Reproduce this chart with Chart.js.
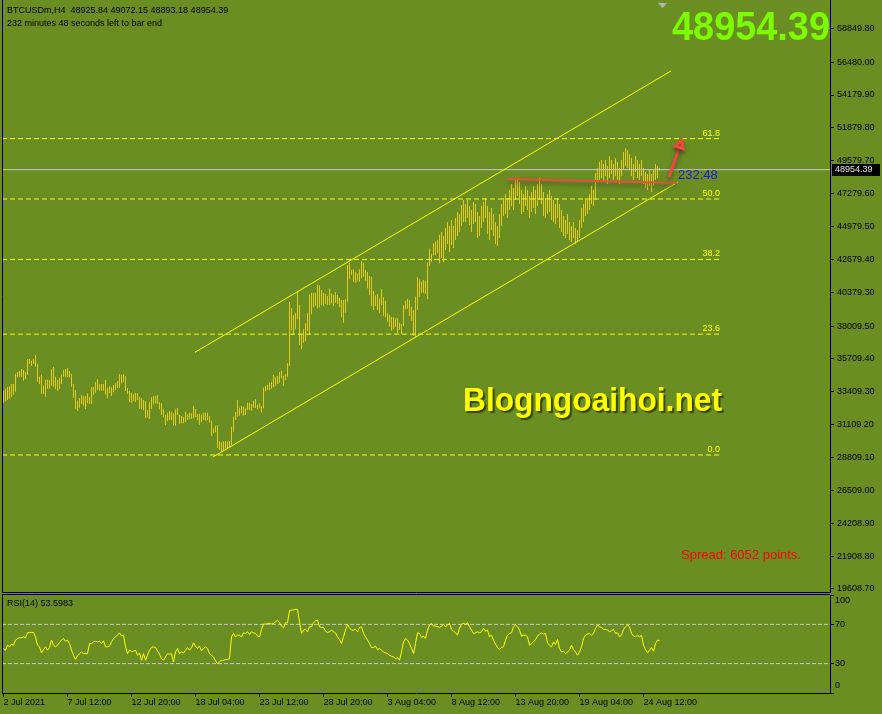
<!DOCTYPE html>
<html lang="en">
  <head>
    <meta charset="UTF-8" />
    <title>BTCUSDm,H4</title>
    <style>
      body {
        margin: 0;
        background: #6b8e23;
      }
      #wrap {
        position: relative;
        width: 882px;
        height: 714px;
      }
      canvas {
        position: absolute;
        left: 0;
      }
      #priceChart {
        top: 0;
      }
      #rsiChart {
        top: 594px;
      }
    </style>
  </head>
  <body>
    <div id="wrap">
      <canvas id="priceChart" width="882" height="594"></canvas>
      <canvas id="rsiChart" width="882" height="120"></canvas>
    </div>

    <script src="https://cdn.jsdelivr.net/npm/chart.js"></script>

    <script>
      // ---- data ----
      const symbol = "BTCUSDm,H4";
      const headerOHLC = [48925.84, 49072.15, 48893.18, 48954.39];
      const timeLeft = "232 minutes 48 seconds left to bar end";
      const timerText = "232:48";
      const spreadText = "Spread: 6052 points.";
      const watermark = "Blogngoaihoi.net";

      // H4 bars, high and low of each
      const barHigh = [
        33484, 33624, 33741, 33788, 33951, 33951, 34674, 34791, 34861, 35001,
        34931, 34791, 35701, 35701, 35584, 35701, 35981, 35374, 34464, 34604,
        33834, 34254, 34254, 34231, 34978, 35141, 34464, 34231, 34371, 34604,
        34954, 35001, 35071, 34861, 34651, 33951, 33531, 32784, 32971, 33204,
        33111, 33111, 33298, 33041, 33741, 33741, 34091, 34301, 33928, 33951,
        33951, 34231, 33694, 33811, 33718, 33881, 34021, 34161, 34651, 34581,
        34651, 34511, 33671, 33461, 33344, 33274, 33321, 33321, 33041, 32971,
        32831, 32738, 32131, 32668, 33018, 33111, 33134, 33181, 32691, 32621,
        32178, 31804, 31944, 32061, 32014, 31898, 32178, 32271, 31781, 31711,
        31641, 32014, 31828, 31944, 31898, 32434, 32201, 31851, 31874, 31804,
        31944, 31944, 31944, 31711, 31384, 30848, 31011, 31081, 29938, 29891,
        29938, 29938, 29938, 29938, 30964, 31664, 31991, 32831, 32294, 32411,
        32364, 32248, 32644, 32644, 32551, 32784, 32901, 32504, 32598, 32411,
        33694, 33811, 33904, 34044, 34091, 34604, 34418, 34511, 34791, 34884,
        34511, 34651, 35421, 39691, 39271, 38758, 38944, 40484, 39504, 37451,
        37778, 38198, 38898, 40204, 40344, 40344, 40344, 40904, 40858, 40531,
        40344, 40251, 40111, 40624, 40298, 40204, 40391, 40181, 39971, 39831,
        39831, 39878, 42281, 42444, 41931, 41978, 41814, 41698, 41978, 42538,
        42444, 41931, 41791, 41511, 41464, 40484, 40158, 40251, 39948, 40578,
        40018, 39784, 38898, 38781, 38664, 38618, 38548, 38571, 38244, 38151,
        39458, 39784, 39924, 39831, 39364, 39131, 40064, 41418, 41278, 41114,
        41231, 41184, 42444, 43424, 43051, 43798, 43938, 44031, 44404, 44591,
        44311, 44871, 45291, 45011, 45431, 45011, 45571, 45991, 45851, 46481,
        46831, 46551, 46831, 46411, 46131, 46691, 46551, 45991, 45711, 46411,
        46691, 46971, 46411, 45991, 46271, 45851, 45291, 45011, 45851, 46551,
        46971, 47251, 46971, 47531, 47951, 47671, 48231, 48371, 48091, 47531,
        47251, 47811, 47531, 47111, 47391, 47811, 47531, 47951, 48371, 47951,
        47391, 46971, 47251, 47531, 47111, 46831, 46551, 46971, 46551, 46131,
        45711, 45431, 45851, 45291, 45011, 45291, 44871, 44731, 45431, 46271,
        46551, 46971, 46831, 47251, 47811, 47531, 48721, 49071, 49491, 49631,
        49351, 49631, 49211, 49911, 49631, 49351, 49771, 49491, 49071, 49631,
        50191, 50471, 50331, 50051, 49771, 49351, 49911, 49631, 49351, 49631,
        49071, 48791, 48651, 48931, 48651, 48931, 49351, 49211, 49072,
      ];
      const barLow = [
        32644, 32738, 32831, 32924, 33018, 33204, 33414, 34418, 34464, 34464,
        34184, 34301, 34604, 35351, 35234, 35351, 35164, 34114, 33951, 33274,
        33251, 33064, 33624, 33624, 33811, 33764, 33578, 33461, 33578, 33951,
        34464, 34464, 34418, 34418, 33764, 32994, 32201, 32084, 32294, 32551,
        32434, 32201, 32598, 32551, 32551, 33204, 33344, 33531, 33484, 33484,
        33484, 33204, 32948, 33298, 33111, 33368, 33531, 33671, 33671, 33998,
        34091, 33461, 33251, 32691, 32644, 32738, 32691, 32831, 32224, 32178,
        32131, 31594, 31594, 31501, 32201, 32528, 32598, 32551, 32178, 31781,
        31618, 31081, 31338, 31431, 31431, 31058, 31034, 31758, 31174, 31198,
        31198, 31268, 31431, 31478, 31501, 31548, 31641, 31431, 31081, 31291,
        31431, 31384, 31431, 31244, 30311, 30498, 30568, 29471, 29330, 29200,
        29331, 29448, 29448, 29564, 29681, 30614, 31431, 31664, 31734, 31898,
        31734, 31781, 32131, 32131, 32084, 32294, 32271, 32178, 32248, 31944,
        32248, 33438, 33531, 33531, 33624, 33718, 33811, 33951, 34044, 34348,
        33811, 34231, 34464, 35211, 37684, 37381, 37778, 38478, 36681, 36378,
        36844, 36938, 37638, 37381, 38828, 39318, 39411, 39248, 39318, 39481,
        39411, 39551, 39458, 39481, 39598, 39411, 39644, 39551, 39318, 38618,
        38244, 38944, 39714, 41278, 41581, 41091, 41044, 41138, 41114, 41348,
        41464, 41184, 40648, 40181, 39411, 39131, 39411, 39131, 38898, 39458,
        38711, 38618, 38314, 37964, 37684, 37778, 37964, 37498, 37731, 37451,
        38011, 39178, 39224, 38711, 38384, 37311, 37264, 39131, 40064, 40344,
        40344, 40251, 39878, 42211, 42491, 42958, 42958, 43098, 42398, 42771,
        42491, 43331, 43751, 43191, 43681, 43471, 44031, 44311, 44591, 45011,
        45291, 45291, 45571, 45081, 44591, 45151, 45291, 44171, 44311, 44871,
        45291, 45571, 44451, 44031, 44731, 44311, 43751, 43611, 44171, 45011,
        45711, 45851, 45571, 46131, 46411, 46131, 46831, 47111, 46551, 45851,
        45991, 46411, 46131, 45571, 45991, 46271, 45851, 46411, 46831, 46551,
        45711, 45571, 45851, 45991, 45431, 45291, 45151, 45571, 44871, 44591,
        44311, 44171, 44451, 44031, 43891, 44171, 43751, 43891, 44171, 44871,
        45291, 45711, 45851, 46131, 46551, 46411, 46831, 48091, 48231, 48371,
        48091, 48511, 47951, 48371, 48651, 48231, 48511, 48231, 47951, 48511,
        48931, 49211, 49071, 48931, 48511, 48231, 48791, 48371, 48231, 48511,
        47951, 47671, 47531, 47811, 47391, 47811, 48231, 48371, 48893,
      ];

      // RSI(14), one value per bar
      const rsiValues = [
        45.4, 43.7, 48.8, 47.1, 49.8, 48.8, 53.9, 55.6, 56.3, 56.3,
        57.3, 56.3, 61.4, 61.8, 61.8, 61.8, 57.3, 48.8, 47.1, 40.9,
        44.3, 47.1, 43.7, 46.4, 53.9, 48.8, 47.1, 48.8, 51.5, 53.9,
        55.6, 52.9, 53.9, 50.5, 43.7, 38.5, 34.4, 37.9, 40.2, 41.9,
        40.2, 40.2, 40.2, 50.5, 50.5, 52.2, 52.9, 52.2, 52.9, 50.5,
        53.2, 47.1, 47.1, 47.8, 52.2, 55.6, 57.3, 59.0, 61.4, 58.4,
        59.0, 47.1, 40.2, 43.7, 42.3, 42.6, 43.7, 38.5, 40.9, 33.4,
        40.2, 33.4, 38.5, 43.7, 46.4, 47.1, 46.4, 43.0, 39.6, 35.1,
        33.4, 36.8, 40.2, 39.6, 40.2, 31.7, 41.9, 45.4, 40.2, 41.9,
        40.9, 43.7, 46.4, 43.7, 46.1, 51.2, 47.8, 45.4, 47.8, 43.0,
        45.4, 47.1, 45.4, 40.2, 38.5, 36.8, 32.7, 30.0, 31.7, 33.4,
        33.4, 34.1, 34.1, 35.1, 57.3, 60.8, 57.3, 59.0, 59.0, 57.3,
        61.4, 60.8, 62.5, 59.7, 62.5, 61.4, 60.8, 58.0, 57.3, 64.9,
        70.3, 70.3, 71.0, 71.0, 70.3, 71.0, 72.7, 74.4, 71.7, 68.3,
        66.6, 71.7, 71.7, 84.0, 84.7, 84.7, 85.4, 85.4, 72.7, 60.8,
        64.2, 64.9, 62.5, 67.6, 67.6, 71.7, 73.7, 74.4, 67.6, 66.9,
        66.9, 63.1, 61.8, 62.5, 64.2, 62.5, 61.4, 57.3, 54.6, 50.5,
        57.3, 64.2, 70.0, 66.6, 64.2, 64.2, 64.9, 62.5, 66.9, 67.6,
        60.8, 57.3, 53.9, 50.5, 46.4, 46.4, 47.8, 44.3, 45.4, 43.7,
        41.9, 40.9, 40.2, 38.5, 37.5, 36.8, 35.1, 36.1, 33.4, 41.9,
        52.2, 55.6, 53.9, 50.5, 45.4, 40.2, 50.5, 61.4, 60.8, 56.6,
        58.0, 55.6, 64.2, 69.3, 71.0, 68.3, 68.3, 67.6, 66.9, 68.3,
        70.0, 67.6, 69.3, 71.0, 64.9, 63.1, 61.4, 59.0, 65.9, 70.3,
        71.0, 70.0, 71.7, 67.6, 64.2, 60.8, 61.4, 62.5, 61.4, 62.5,
        65.9, 63.1, 64.2, 57.3, 59.0, 53.9, 49.8, 46.4, 44.3, 46.4,
        47.1, 53.9, 59.0, 60.8, 61.4, 67.6, 69.3, 67.6, 64.2, 58.0,
        59.0, 59.0, 57.3, 48.8, 50.5, 52.2, 54.6, 58.0, 60.1, 61.4,
        60.1, 60.8, 51.2, 48.8, 47.1, 52.2, 49.5, 54.6, 45.4, 41.9,
        42.6, 40.2, 41.9, 43.7, 48.8, 44.3, 41.9, 38.5, 41.9, 47.1,
        55.6, 59.0, 60.1, 60.8, 59.0, 60.8, 65.9, 69.3, 67.6, 66.9,
        64.9, 64.9, 64.2, 62.5, 63.5, 64.9, 60.8, 61.4, 57.3, 59.0,
        64.9, 67.6, 69.3, 67.6, 60.8, 58.0, 57.3, 59.0, 57.3, 59.0,
        48.8, 44.3, 40.9, 43.7, 46.4, 42.6, 50.5, 53.9, 53.5983,
      ];
      const rsiLevels = [70, 30];
      const rsiTicks = [100, 70, 30, 0];

      const timeLabels = [
        "2 Jul 2021", "7 Jul 12:00", "12 Jul 20:00", "18 Jul 04:00",
        "23 Jul 12:00", "28 Jul 20:00", "3 Aug 04:00", "8 Aug 12:00",
        "13 Aug 20:00", "19 Aug 04:00", "24 Aug 12:00",
      ];
      const timeLabelStep = 32; // bars between time labels

      const priceTicks = [
        58849.8, 56480.0, 54179.9, 51879.8, 49579.7, 47279.6, 44979.5,
        42679.4, 40379.3, 38009.5, 35709.4, 33409.3, 31109.2, 28809.1,
        26509.0, 24208.9, 21908.8, 19608.7,
      ];

      const fibLabels = ["0.0", "23.6", "38.2", "50.0", "61.8"];
      const fibPrices = [28981, 37440, 42670, 46900, 51130];
      const fibEndBar = 358.25;

      // trend lines as [bar index, price]
      const channelUpper = [[95.75, 36170], [333.75, 55861]];
      const channelLower = [[104.75, 28841], [337.25, 48091]];
      const redLevel = [[251.75, 48301], [336.75, 48021]];
      const redArrow = [[332.75, 48441], [338.25, 50681]];

      // ---- drawing ----
      const lastPrice = headerOHLC[3];
      const xMin = -0.75;
      const xMax = 413.25;
      const FONT = '"Liberation Sans", Arial, sans-serif';

      Chart.defaults.font.family = FONT;
      Chart.defaults.font.size = 9;
      Chart.defaults.color = "#000";

      function lineSet(points, color, width, dash, order) {
        return {
          type: "line",
          data: points.map(([x, y]) => ({ x, y })),
          borderColor: color,
          borderWidth: width,
          borderDash: dash || [],
          pointRadius: 0,
          tension: 0,
          fill: false,
          order: order,
        };
      }

      const bars = barHigh.map((h, i) => ({ x: i, y: [barLow[i], h] }));

      const priceDatasets = [
        {
          type: "bar",
          data: bars,
          backgroundColor: "#e2ca1a",
          barThickness: 1,
          borderWidth: 0,
          inflateAmount: 0,
          order: 10,
        },
        lineSet([[xMin, lastPrice], [xMax, lastPrice]], "#c8c8c8", 1, null, 8),
        ...fibPrices.map((p) =>
          lineSet([[xMin, p], [fibEndBar, p]], "#ffff00", 1, [5, 3], 6)
        ),
        lineSet(channelUpper, "#ffff00", 1, null, 4),
        lineSet(channelLower, "#ffff00", 1, null, 4),
        Object.assign(lineSet(redLevel, "#ee4b3f", 2, null, 2), { shadow: true }),
        Object.assign(lineSet(redArrow, "#ee4b3f", 3, null, 1), {
          pointRadius: [0, 5],
          pointStyle: "triangle",
          pointRotation: 19,
          pointBackgroundColor: "#ee4b3f",
          pointBorderColor: "#ee4b3f",
          shadow: true,
        }),
      ];

      const shadowPlugin = {
        id: "shadowPlugin",
        beforeDatasetDraw(chart, args) {
          if (args.meta._dataset.shadow) {
            const ctx = chart.ctx;
            ctx.shadowColor = "rgba(40,40,40,0.5)";
            ctx.shadowBlur = 4;
            ctx.shadowOffsetY = 3;
          }
        },
        afterDatasetDraw(chart) {
          const ctx = chart.ctx;
          ctx.shadowColor = "rgba(0,0,0,0)";
          ctx.shadowBlur = 0;
          ctx.shadowOffsetY = 0;
        },
      };

      const priceOverlay = {
        id: "priceOverlay",
        afterDraw(chart) {
          const { ctx, chartArea: a } = chart;
          const x = chart.scales.x;
          const y = chart.scales.y;
          ctx.save();

          // frame
          ctx.strokeStyle = "#000";
          ctx.lineWidth = 1;
          ctx.beginPath();
          ctx.moveTo(a.left + 0.5, 0);
          ctx.lineTo(a.left + 0.5, a.bottom + 0.5);
          ctx.lineTo(a.right, a.bottom + 0.5);
          ctx.stroke();

          // fibo labels
          ctx.font = "9px " + FONT;
          ctx.fillStyle = "#ffff00";
          ctx.textAlign = "right";
          ctx.textBaseline = "bottom";
          fibPrices.forEach((p, i) => {
            ctx.fillText(fibLabels[i], x.getPixelForValue(fibEndBar), y.getPixelForValue(p) - 1);
          });

          // header
          ctx.fillStyle = "#000";
          ctx.textAlign = "left";
          ctx.textBaseline = "middle";
          ctx.fillText(symbol + "  " + headerOHLC.map((v) => v.toFixed(2)).join(" "), 7, 11);
          ctx.fillText(timeLeft, 7, 24);

          // big price
          const big = lastPrice.toFixed(2);
          ctx.font = "bold 41px " + FONT;
          const bw = ctx.measureText(big).width;
          ctx.save();
          ctx.translate(830, 40);
          ctx.scale(158 / bw, 1);
          ctx.fillStyle = "#7cfc00";
          ctx.textAlign = "right";
          ctx.textBaseline = "alphabetic";
          ctx.fillText(big, 0, 0);
          ctx.restore();

          // watermark
          ctx.font = "bold 34px " + FONT;
          const ww = ctx.measureText(watermark).width;
          ctx.save();
          ctx.translate(463, 411);
          ctx.scale(259 / ww, 1);
          ctx.shadowColor = "rgba(45,55,5,0.85)";
          ctx.shadowOffsetX = 2;
          ctx.shadowOffsetY = 2;
          ctx.shadowBlur = 1;
          ctx.fillStyle = "#ffff00";
          ctx.textAlign = "left";
          ctx.textBaseline = "alphabetic";
          ctx.fillText(watermark, 0, 0);
          ctx.restore();

          // spread
          ctx.font = "13px " + FONT;
          ctx.fillStyle = "#ff0000";
          ctx.textAlign = "left";
          ctx.textBaseline = "middle";
          ctx.fillText(spreadText, 681, 555);

          // bar timer
          const py = y.getPixelForValue(lastPrice);
          ctx.font = "13px " + FONT;
          ctx.fillStyle = "#1a1ad8";
          ctx.fillText(timerText, 678, py + 6);

          // price box on the axis
          ctx.fillStyle = "#000";
          ctx.fillRect(832, Math.round(py) - 6, 48, 12);
          ctx.font = "9px " + FONT;
          ctx.fillStyle = "#e8e8e8";
          ctx.fillText(lastPrice.toFixed(2), 835, Math.round(py));

          // shift marker
          ctx.fillStyle = "#b4b4b4";
          ctx.beginPath();
          ctx.moveTo(658, 3);
          ctx.lineTo(667, 3);
          ctx.lineTo(662.5, 8);
          ctx.closePath();
          ctx.fill();

          ctx.restore();
        },
      };

      new Chart(document.getElementById("priceChart"), {
        type: "bar",
        data: { datasets: priceDatasets },
        options: {
          responsive: false,
          animation: false,
          devicePixelRatio: 1,
          layout: { autoPadding: false, padding: { left: 2, top: 0, right: 0, bottom: 2 } },
          plugins: { legend: { display: false }, tooltip: { enabled: false } },
          scales: {
            x: {
              type: "linear",
              display: false,
              min: xMin,
              max: xMax,
              offset: false,
              bounds: "data",
            },
            y: {
              position: "right",
              min: 19390.9,
              max: 60830.9,
              bounds: "data",
              afterFit(s) {
                s.width = 52;
                s.paddingTop = 0;
                s.paddingBottom = 0;
              },
              afterBuildTicks(s) {
                s.ticks = priceTicks.map((v) => ({ value: v }));
              },
              ticks: {
                callback: (v) => Number(v).toFixed(2),
                padding: 3,
                autoSkip: false,
                color: "#000",
              },
              grid: { drawOnChartArea: false, tickLength: 4, color: "#000" },
              border: { color: "#000" },
            },
          },
        },
        plugins: [shadowPlugin, priceOverlay],
      });

      const rsiOverlay = {
        id: "rsiOverlay",
        afterDraw(chart) {
          const { ctx, chartArea: a } = chart;
          const y = chart.scales.y;
          ctx.save();
          ctx.strokeStyle = "#000";
          ctx.lineWidth = 1;
          ctx.beginPath();
          ctx.moveTo(a.left + 0.5, a.bottom);
          ctx.lineTo(a.left + 0.5, 0.5);
          ctx.lineTo(a.right, 0.5);
          ctx.stroke();

          ctx.font = "9px " + FONT;
          ctx.fillStyle = "#000";
          ctx.textAlign = "left";
          ctx.textBaseline = "middle";
          ctx.fillText("RSI(14) " + rsiValues[rsiValues.length - 1].toFixed(4), 7, 10);

          rsiTicks.forEach((v) => {
            const shift = v === 100 ? 6 : v === 0 ? -7 : 0;
            ctx.fillText(String(v), 835, y.getPixelForValue(v) + shift);
          });
          ctx.restore();
        },
      };

      new Chart(document.getElementById("rsiChart"), {
        type: "line",
        data: {
          datasets: [
            lineSet(rsiValues.map((v, i) => [i, v]), "#ffff00", 1, null, 1),
            ...rsiLevels.map((lv) =>
              lineSet([[xMin, lv], [xMax, lv]], "#c8c8c8", 1, [4, 2], 5)
            ),
          ],
        },
        options: {
          responsive: false,
          animation: false,
          devicePixelRatio: 1,
          layout: { autoPadding: false, padding: { left: 2, top: 1, right: 0, bottom: 0 } },
          plugins: { legend: { display: false }, tooltip: { enabled: false } },
          scales: {
            x: {
              type: "linear",
              min: xMin,
              max: xMax,
              bounds: "data",
              afterFit(s) {
                s.height = 21;
                s.paddingLeft = 0;
                s.paddingRight = 0;
              },
              afterBuildTicks(s) {
                s.ticks = timeLabels.map((t, i) => ({ value: i * timeLabelStep }));
              },
              ticks: {
                callback: (v, i) => timeLabels[i],
                align: "start",
                autoSkip: false,
                maxRotation: 0,
                minRotation: 0,
                padding: 0,
                color: "#000",
              },
              grid: { drawOnChartArea: false, tickLength: 4, color: "#000" },
              border: { color: "#000" },
            },
            y: {
              position: "right",
              min: 0,
              max: 100,
              afterFit(s) {
                s.width = 52;
                s.paddingTop = 0;
                s.paddingBottom = 0;
              },
              afterBuildTicks(s) {
                s.ticks = rsiTicks.map((v) => ({ value: v }));
              },
              ticks: { display: false },
              grid: { drawOnChartArea: false, tickLength: 4, color: "#000" },
              border: { color: "#000" },
            },
          },
        },
        plugins: [rsiOverlay],
      });
    </script>
  </body>
</html>
